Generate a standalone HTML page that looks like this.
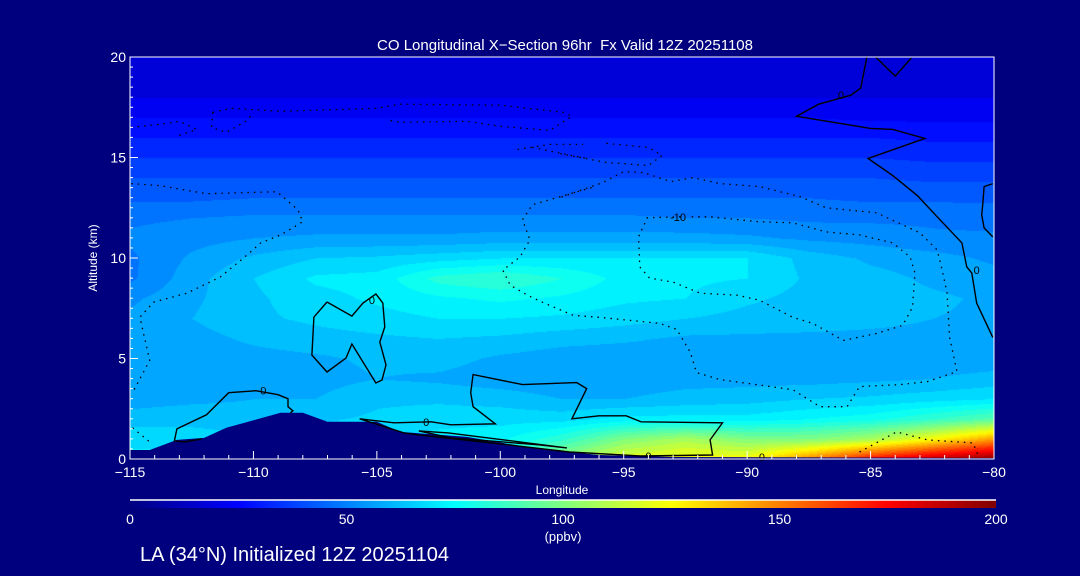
<!DOCTYPE html>
<html><head><meta charset="utf-8"><style>
body{margin:0;background:#00007f;width:1080px;height:576px;overflow:hidden;font-family:"Liberation Sans",sans-serif;}
#wrap{position:relative;width:1080px;height:576px;}
canvas{position:absolute;left:130px;top:57px;}
svg{position:absolute;left:0;top:0;}
</style></head><body><div id="wrap">
<canvas id="cv" width="864" height="402"></canvas>
<svg id="sv" width="1080" height="576"></svg>
</div>
<script>
// ---- data ----
const lons = [-115,-112.5,-110,-107.5,-105,-102.5,-100,-97.5,-95,-92.5,-90,-87.5,-85,-82.5,-80];
const alts = [20,19,18,17,16,15,14,13,12,11,10,9,8,7,6,5,4,3,2,1,0];
const co = [
[18,18,18,18,18,18,18,18,18,18,18,18,18,18,18],
[18,18,18,18,18,18,18,18,18,18,18,18,18,18,18],
[20,20,20,20,20,20,20,20,20,20,20,20,20,20,20],
[25,25,25,25,25,25,25,25,25,25,25,25,24,24,24],
[30,30,30,30,30,30,30,30,30,30,30,30,30,29,29],
[35,35,35,35,35,35,35,35,35,35,35,35,35,34,34],
[40,40,40,40,40,40,40,40,40,40,40,40,40,39,39],
[44,44,45,45,45,45,45,45,45,45,45,45,44,44,44],
[49,50,51,51,51,51,51,51,51,50,50,49,49,49,48],
[51,53,55,56,56,56,57,57,57,57,56,54,53,51,51],
[49,56,61,65,66,68,70,70,70,70,70,63,59,57,54],
[49,58,65,71,72,82,85,80,73,71,70,64,62,59,57],
[54,59,64,68,71,74,76,74,71,70,66,63,62,61,59],
[56,60,64,66,68,70,70,69,67,65,63,62,61,60,59],
[56,58,61,63,64,65,64,62,61,59,59,59,59,59,59],
[56,57,58,59,61,62,59,57,56,56,56,56,57,57,57],
[57,57,57,58,60,59,57,56,57,58,58,58,59,60,62],
[58,59,60,60,64,64,63,60,60,62,63,65,66,68,70],
[62,63,62,64,66,68,68,68,72,72,72,75,78,85,92],
[70,68,66,68,70,72,74,84,100,108,100,100,108,125,145],
[70,72,70,70,72,74,80,105,120,125,125,150,175,190,200]
];
const xTicks = [-115,-110,-105,-100,-95,-90,-85,-80];
const yTicks = [0,5,10,15,20];
const cbTicks = [0,50,100,150,200];
const terrain = [[-115,0.45],[-114.2,0.45],[-113.1,0.95],[-112,1.05],[-111.1,1.55],[-108.9,2.3],[-108,2.3],[-107,1.85],[-105,1.85],[-104.05,1.35],[-101.35,1.1],[-98.7,0.55],[-97.2,0.35],[-96,0.2],[-93,0.1],[-80,0.05]];
const solidContours = [
[[-112.1,1.0],[-112.8,0.85],[-113.2,0.9],[-113.1,1.5],[-111.9,2.2],[-111.0,3.3],[-109.9,3.4],[-109.0,3.2],[-108.6,3.0],[-108.6,2.6],[-108.4,2.4],[-108.5,2.3]],
[[-107.02,7.81],[-106.01,7.11],[-105.56,7.76],[-105.04,8.21],[-104.76,7.76],[-104.68,6.57],[-104.88,5.82],[-104.63,4.68],[-104.79,3.93],[-105.04,3.78],[-106.01,5.72],[-106.25,5.02],[-107.02,4.33],[-107.63,5.17],[-107.55,7.06],[-107.02,7.81]],
[[-105.7,2.0],[-104.3,1.8],[-102.8,1.85],[-102.0,1.7],[-100.2,1.75],[-101.1,2.6],[-101.2,3.3],[-101.1,4.2],[-99.1,3.7],[-96.9,3.8],[-96.5,3.5],[-97.1,2.0],[-96.0,2.15],[-94.9,2.15],[-94.3,1.85],[-91.0,1.8],[-91.5,0.95],[-91.4,0.2],[-94.3,0.15],[-97.2,0.35],[-100.0,0.75],[-103.3,1.2],[-103.9,1.3],[-105.7,2.0]],
[[-103.3,1.4],[-102.1,1.3],[-97.3,0.55],[-98.4,0.7],[-102.0,1.05],[-103.3,1.4]],
[[-85.15,20.0],[-85.4,18.45],[-85.8,18.1],[-87.1,17.65],[-88.0,17.05],[-85.0,16.45],[-84.1,16.4],[-82.8,15.95],[-85.1,14.95],[-84.1,14.1],[-83.1,13.1],[-82.3,12.05],[-81.3,10.75],[-81.1,9.55],[-80.9,9.25],[-80.7,7.75],[-80.05,6.05]],
[[-84.8,20.0],[-84.0,19.05],[-83.35,19.95]],
[[-80.05,13.7],[-80.4,13.55],[-80.45,12.75],[-80.5,12.15],[-80.4,11.5],[-80.05,11.05]]
];
const dottedContours = [
[[-114.95,13.7],[-113.8,13.6],[-111.9,13.2],[-109.05,13.3],[-108.2,12.4],[-108.0,11.8],[-108.9,11.15],[-109.7,10.75],[-110.5,9.9],[-111.35,9.05],[-112.7,8.25],[-114.05,7.8],[-114.6,7.05],[-114.2,4.9],[-114.9,3.3]],
[[-114.9,1.55],[-114.2,0.85]],
[[-114.95,16.5],[-113.8,16.65],[-113.0,16.8],[-112.3,16.4],[-113.0,16.1]],
[[-111.65,17.25],[-110.9,17.45],[-108.9,17.3],[-105.0,17.45],[-104.05,17.65],[-100.0,17.6],[-97.45,17.25],[-97.1,17.05],[-98.0,16.35],[-100.0,16.55],[-101.35,16.8],[-104.05,16.75],[-104.5,16.85]],
[[-111.65,17.25],[-111.7,16.5],[-111.1,16.25],[-110.25,16.85],[-110.0,17.25]],
[[-99.3,15.4],[-98.0,15.65],[-96.65,15.65]],
[[-98.7,15.5],[-96.5,14.95]],
[[-95.7,15.7],[-94.0,15.5],[-93.45,15.1],[-94.0,14.6],[-95.7,14.75],[-97.6,15.2]],
[[-96.3,13.5],[-98.7,12.65],[-99.1,11.9],[-98.8,10.9],[-99.2,10.05],[-99.9,9.4],[-99.6,8.65],[-98.9,8.15],[-98.3,7.8],[-97.05,7.15],[-96.0,7.05],[-93.55,6.75],[-92.85,6.45],[-92.3,5.3],[-92.05,4.3],[-91.1,3.95],[-88.15,3.45],[-87.05,2.6],[-85.95,2.6],[-85.45,3.6],[-83.8,3.7],[-82.7,3.85],[-81.5,4.35],[-81.8,6.05],[-81.9,8.25],[-82.1,9.4],[-82.3,10.4],[-83.0,11.25],[-84.75,12.25],[-86.8,12.5],[-87.85,13.05],[-89.5,13.55],[-91.1,13.7],[-92.2,14.0],[-93.1,13.8],[-94.2,14.25],[-95.0,14.3],[-95.85,13.75],[-97.6,13.0]],
[[-92.7,12.05],[-94.05,12.0],[-94.4,11.05],[-94.35,9.55],[-93.95,9.0],[-93.0,8.8],[-91.9,8.25],[-90.4,8.15],[-89.5,7.9],[-88.15,7.05],[-87.35,6.75],[-86.1,5.9],[-84.75,6.25],[-83.7,6.65],[-83.3,7.55],[-83.2,9.25],[-83.4,10.05],[-84.1,10.75],[-85.45,11.15],[-86.8,11.3],[-88.15,11.75],[-89.5,11.8],[-91.5,12.05],[-92.45,12.05]],
[[-85.45,0.35],[-83.95,1.35],[-82.7,0.95],[-80.85,0.8],[-80.65,0.2]]
];
const contourLabels = [[-109.6,3.4,"0"],[-105.2,7.9,"0"],[-103.0,1.85,"0"],[-94.0,0.15,"0"],[-89.4,0.1,"0"],[-86.2,18.1,"0"],[-80.7,9.4,"0"],[-92.8,12.05,"-10"]];

// ---- axes ----
const PX0=130,PX1=994,PY0=57,PY1=459;
const xs = v => PX0+(v+115)/35*(PX1-PX0);
const ys = v => PY1-v/20*(PY1-PY0);
const cbx = v => 130+v/200*866;

function cmap(v){
  const st=[[0,[0,0,128]],[25,[0,0,255]],[75,[0,255,255]],[100,[128,255,128]],[125,[255,255,0]],[175,[255,0,0]],[200,[128,0,0]]];
  v=Math.max(0,Math.min(200,v));
  for(let i=1;i<st.length;i++){ if(v<=st[i][0]){const a=st[i-1],b=st[i],t=(v-a[0])/(b[0]-a[0]);
    return a[1].map((c,k)=>Math.round(c+(b[1][k]-c)*t));}}
  return [128,0,0];
}
// heatmap
const cv=document.getElementById('cv'),ctx=cv.getContext('2d');
const W=cv.width,H=cv.height,img=ctx.createImageData(W,H);
const nR=alts.length,nC=lons.length;
for(let py=0;py<H;py++){
  const alt=20-py/H*20; const fr=(alts[0]-alt)/(alts[0]-alts[nR-1])*(nR-1);
  const r0=Math.min(nR-2,Math.floor(fr)),tr=fr-r0;
  for(let px=0;px<W;px++){
    const lon=-115+px/W*35; const fc=(lon-lons[0])/(lons[nC-1]-lons[0])*(nC-1);
    const c0=Math.min(nC-2,Math.floor(fc)),tc=fc-c0;
    const v=(co[r0][c0]*(1-tc)+co[r0][c0+1]*tc)*(1-tr)+(co[r0+1][c0]*(1-tc)+co[r0+1][c0+1]*tc)*tr;
    const q=Math.floor(v/5)*5+2.5; const col=cmap(q); const i=(py*W+px)*4;
    img.data[i]=col[0];img.data[i+1]=col[1];img.data[i+2]=col[2];img.data[i+3]=255;
  }
}
ctx.putImageData(img,0,0);

const NS='http://www.w3.org/2000/svg',sv=document.getElementById('sv');
function mk(tag,attrs,parent){const e=document.createElementNS(NS,tag);for(const k in attrs)e.setAttribute(k,attrs[k]);(parent||sv).appendChild(e);return e;}
function txt(x,y,s,size,anchor,name){const t=mk('text',{x:x,y:y,fill:'#fff','font-size':size,'text-anchor':anchor||'middle','font-family':'Liberation Sans, sans-serif'});t.textContent=s;


return t;}

// terrain
let tp='M'+xs(-115)+','+ys(0);
terrain.forEach(p=>tp+=' L'+xs(p[0]).toFixed(1)+','+ys(p[1]).toFixed(1));
tp+=' L'+xs(-80)+','+ys(0)+' Z';
const terr=mk('path',{d:tp,fill:'#00007f'});



function pts(arr){return arr.map(p=>xs(p[0]).toFixed(1)+','+ys(p[1]).toFixed(1)).join(' ');}
solidContours.forEach(c=>{const l=mk('polyline',{points:pts(c),fill:'none',stroke:'#000','stroke-width':1.4});

});
dottedContours.forEach(c=>{const l=mk('polyline',{points:pts(c),fill:'none',stroke:'#000','stroke-width':1.3,'stroke-dasharray':'1.5 5'});

});
contourLabels.forEach(c=>{const t=txt(xs(c[0]),ys(c[1])+4,c[2],11,'middle','contour-label');t.setAttribute('fill','#000');});

// frame
const fr=mk('rect',{x:PX0,y:PY0,width:PX1-PX0,height:PY1-PY0,fill:'none',stroke:'#fff','stroke-width':1});


// x ticks
for(let v=-115;v<=-80;v++){const major=v%5===0;
  const t=mk('line',{x1:xs(v),x2:xs(v),y1:PY1,y2:PY1-(major?8:4),stroke:'#fff'});
  
  }
xTicks.forEach(v=>txt(xs(v),477,(v<0?'\u2212':'')+Math.abs(v),14,'middle','x-tick-label'));
for(let v=0;v<=20;v+=0.5){const major=v%5===0;
  const t=mk('line',{x1:PX0,x2:PX0+(major?8:3),y1:ys(v),y2:ys(v),stroke:'#fff'});
  
  }
yTicks.forEach(v=>txt(126,ys(v)+5,String(v),14,'end','y-tick-label'));
txt(565,50,'CO Longitudinal X\u2212Section 96hr\u00a0\u00a0Fx Valid 12Z 20251108',15,'middle','chart-title');
const yl=txt(0,0,'Altitude (km)',12,'middle','y-axis-title');yl.setAttribute('transform','translate(97,258) rotate(-90)');
txt(562,494,'Longitude',12,'middle','x-axis-title');

// colorbar
const defs=mk('defs',{});const lg=mk('linearGradient',{id:'g'},defs);
for(let v=0;v<=200;v+=5){const c=cmap(v);mk('stop',{offset:(v/200*100)+'%','stop-color':'rgb('+c.join(',')+')'},lg);}
const cb=mk('rect',{x:130,y:500,width:866,height:8,fill:'url(#g)'});


const cl=mk('line',{x1:130,x2:996,y1:500,y2:500,stroke:'#fff','stroke-width':1.5});


cbTicks.forEach(v=>txt(cbx(v),524,String(v),14,'middle','colorbar-tick-label'));
txt(563,541,'(ppbv)',13,'middle','colorbar-unit');
txt(140,561,'LA (34\u00b0N) Initialized 12Z 20251104',20,'start','footer-init-label');
</script></body></html>
